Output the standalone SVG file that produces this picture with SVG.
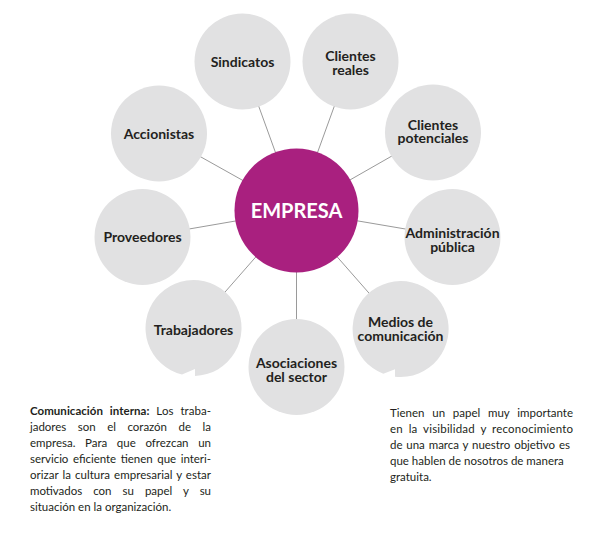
<svg xmlns="http://www.w3.org/2000/svg" width="599" height="543" viewBox="0 0 599 543">
<style>
.n{fill:#e1e1e2}
.c{fill:#a9207f}
.lbl{font-family:Lato,"Open Sans","Liberation Sans",sans-serif;font-weight:bold;font-size:14px;fill:#231f20;text-anchor:middle}
.big{font-family:Lato,"Open Sans","Liberation Sans",sans-serif;font-weight:bold;font-size:20px;fill:#ffffff;text-anchor:middle}
.body{font-family:Lato,"Open Sans","Liberation Sans",sans-serif;font-size:11.5px;fill:#231f20}
.conn line{stroke:#9a9a9a;stroke-width:1}
</style>
<rect width="599" height="543" fill="#ffffff"/>
<g id="connectors" class="conn">
<line x1="296.5" y1="210.5" x2="242.5" y2="61.5"/>
<line x1="296.5" y1="210.5" x2="350.5" y2="61.5"/>
<line x1="296.5" y1="210.5" x2="159" y2="133.5"/>
<line x1="296.5" y1="210.5" x2="433" y2="132.5"/>
<line x1="296.5" y1="210.5" x2="142.5" y2="237"/>
<line x1="296.5" y1="210.5" x2="452.5" y2="237"/>
<line x1="296.5" y1="210.5" x2="193.5" y2="328"/>
<line x1="296.5" y1="210.5" x2="296.5" y2="367"/>
<line x1="296.5" y1="210.5" x2="400.5" y2="329"/>
</g>
<g id="sindicatos"><circle class="n" cx="242.5" cy="61.5" r="48"/><text class="lbl" x="242.5" y="67">Sindicatos</text></g>
<g id="clientes-reales"><circle class="n" cx="350.5" cy="61.5" r="48"/><text class="lbl" x="350.5" y="61">Clientes</text><text class="lbl" x="350.5" y="75">reales</text></g>
<g id="accionistas"><circle class="n" cx="159" cy="133.5" r="48"/><text class="lbl" x="159" y="138.5">Accionistas</text></g>
<g id="clientes-potenciales"><circle class="n" cx="433" cy="132.5" r="48"/><text class="lbl" x="433" y="129.5">Clientes</text><text class="lbl" x="433" y="143">potenciales</text></g>
<g id="proveedores"><circle class="n" cx="142.5" cy="237" r="48"/><text class="lbl" x="142.5" y="242">Proveedores</text></g>
<g id="administracion"><circle class="n" cx="452.5" cy="237" r="48"/><text class="lbl" x="452.5" y="238">Administración</text><text class="lbl" x="452.5" y="252">pública</text></g>
<g id="trabajadores"><path class="n" d="M195 375.98 A48 48 0 1 0 182 374.6 L195 369 Z"/><text class="lbl" x="193.5" y="335">Trabajadores</text></g>
<g id="asociaciones"><circle class="n" cx="296.5" cy="367" r="48"/><text class="lbl" x="296.5" y="368">Asociaciones</text><text class="lbl" x="296.5" y="382">del sector</text></g>
<g id="medios"><path class="n" d="M395 376.7 A48 48 0 1 0 383.3 373.8 L395 369.3 Z"/><text class="lbl" x="400.5" y="327">Medios de</text><text class="lbl" x="400.5" y="340.5">comunicación</text></g>
<g id="empresa"><circle class="c" cx="296.5" cy="210.5" r="62"/><text class="big" x="296.5" y="218">EMPRESA</text></g>
<g id="nota-interna" class="body">
<text x="30" y="415" word-spacing="4" textLength="181" lengthAdjust="spacing"><tspan font-weight="bold">Comunicación interna:</tspan> Los traba-</text>
<text x="30" y="431" word-spacing="8.7" textLength="181" lengthAdjust="spacing">jadores son el corazón de la</text>
<text x="30" y="447" word-spacing="6.7" textLength="181" lengthAdjust="spacing">empresa. Para que ofrezcan un</text>
<text x="30" y="463" word-spacing="1.8" textLength="181" lengthAdjust="spacing">servicio eficiente tienen que interi-</text>
<text x="30" y="479" word-spacing="1" textLength="181" lengthAdjust="spacing">orizar la cultura empresarial y estar</text>
<text x="30" y="495" word-spacing="8.2" textLength="181" lengthAdjust="spacing">motivados con su papel y su</text>
<text x="30" y="511">situación en la organización.</text>
</g>
<g id="nota-medios" class="body">
<text x="390" y="417" word-spacing="4.8" textLength="183" lengthAdjust="spacing">Tienen un papel muy importante</text>
<text x="390" y="433" word-spacing="2.7" textLength="183" lengthAdjust="spacing">en la visibilidad y reconocimiento</text>
<text x="390" y="449" word-spacing="1" textLength="180" lengthAdjust="spacing">de una marca y nuestro objetivo es</text>
<text x="390" y="465">que hablen de nosotros de manera</text>
<text x="390" y="481">gratuita.</text>
</g>
</svg>
